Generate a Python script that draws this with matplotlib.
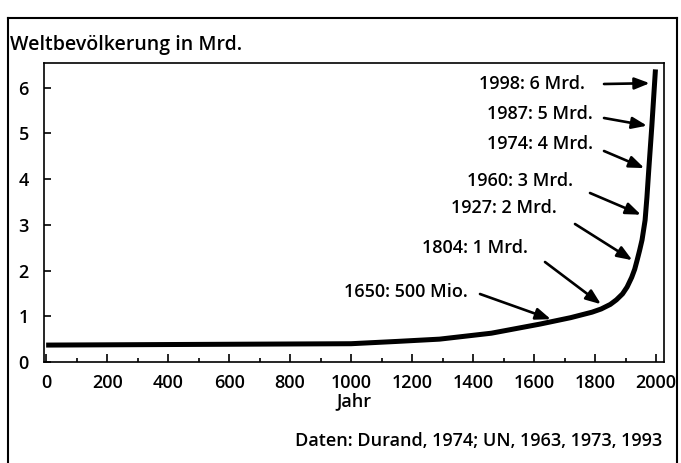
import matplotlib
matplotlib.use("Agg")
import matplotlib.pyplot as plt
import numpy as np
from matplotlib.lines import Line2D

# ---- data ----
curve_years = [0, 1000, 1150, 1290, 1460, 1620, 1720, 1790, 1820, 1850, 1870, 1890,
               1905, 1920, 1930, 1938, 1946, 1954, 1964, 1970, 1976, 1986, 1998]
curve_values = [0.37, 0.40, 0.45, 0.50, 0.63, 0.83, 0.97, 1.09, 1.16, 1.26, 1.36, 1.49,
                1.64, 1.85, 2.03, 2.23, 2.44, 2.67, 3.10, 3.60, 4.20, 5.15, 6.40]

labels = ["1998: 6 Mrd.", "1987: 5 Mrd.", "1974: 4 Mrd.", "1960: 3 Mrd.",
          "1927: 2 Mrd.", "1804: 1 Mrd.", "1650: 500 Mio."]
arrow_tip_values = [6.1, 5.15, 4.2, 3.18, 2.17, 1.2, 0.9]

x_ticks = list(range(0, 2001, 200))
y_ticks = [0, 1, 2, 3, 4, 5, 6]

# ---- layout (figure pixels, top-left origin) ----
W, H = 681, 463
text_right = [585, 593, 593, 573, 557, 528, 468]
text_y = [84, 114, 144, 181, 208, 248, 292]
tail_xy = [(604, 84), (604, 118), (604, 151), (590, 193), (575, 224), (545, 262), (480, 294)]

FONT = "Open Sans"
plt.rcParams['font.family'] = [FONT, 'DejaVu Sans']
WEIGHT = "semibold"

fig = plt.figure(figsize=(W / 100, H / 100), dpi=100)
fig.patch.set_facecolor("white")

ax_l, ax_r, ax_t, ax_b = 44, 664, 63, 362
ax = fig.add_axes([ax_l / W, 1 - ax_b / H, (ax_r - ax_l) / W, (ax_b - ax_t) / H])
ax.set_xlim(-7, 2026)
ax.set_ylim(0, 6.54)

ax.plot(curve_years, curve_values, color="black", lw=3.6,
        solid_capstyle="butt", solid_joinstyle="round")

for s in ax.spines.values():
    s.set_linewidth(1.2)

ax.set_xticks(x_ticks)
ax.set_xticks(list(range(100, 2001, 200)), minor=True)
ax.set_yticks(y_ticks)
ax.set_yticklabels([str(v) for v in y_ticks])
ax.tick_params(axis="x", which="major", direction="in", length=6, width=1.2,
               labelsize=13, pad=9)
ax.tick_params(axis="x", which="minor", direction="in", length=3, width=1.2)
ax.tick_params(axis="y", which="major", direction="in", length=5, width=1.2,
               labelsize=13, pad=11)
for lbl in ax.get_xticklabels() + ax.get_yticklabels():
    lbl.set_fontweight(WEIGHT)
ax.set_xlabel("Jahr", fontsize=13, labelpad=0, fontweight=WEIGHT)

# annotations
vals_arr = np.array(curve_values)
yrs_arr = np.array(curve_years)
for lab, tv, tr, ty, (tx0, ty0) in zip(labels, arrow_tip_values, text_right, text_y, tail_xy):
    fig.text(tr / W, 1 - ty / H, lab, ha="right", va="center", fontsize=13,
             fontweight=WEIGHT)
    tip_year = np.interp(tv, vals_arr, yrs_arr)
    ax.annotate("", xy=(tip_year, tv), xycoords="data",
                xytext=(tx0, H - ty0), textcoords="figure pixels",
                arrowprops=dict(arrowstyle="-|>,head_length=0.9,head_width=0.35",
                                color="black", lw=1.9, shrinkA=0, shrinkB=3.5))

fig.text(10 / W, 1 - 45 / H, "Weltbevölkerung in Mrd.", ha="left", va="center",
         fontsize=14, fontweight=WEIGHT)
fig.text(662 / W, 1 - 441 / H, "Daten: Durand, 1974; UN, 1963, 1973, 1993",
         ha="right", va="center", fontsize=13, fontweight=WEIGHT)

# outer frame
for xs, ys in [((8, 8), (18, 470)), ((8, 677), (18, 18)), ((677, 677), (18, 470))]:
    fig.add_artist(Line2D([x / W for x in xs], [1 - y / H for y in ys],
                          color="black", lw=1.5, transform=fig.transFigure))

fig.savefig("out.png", dpi=100)
